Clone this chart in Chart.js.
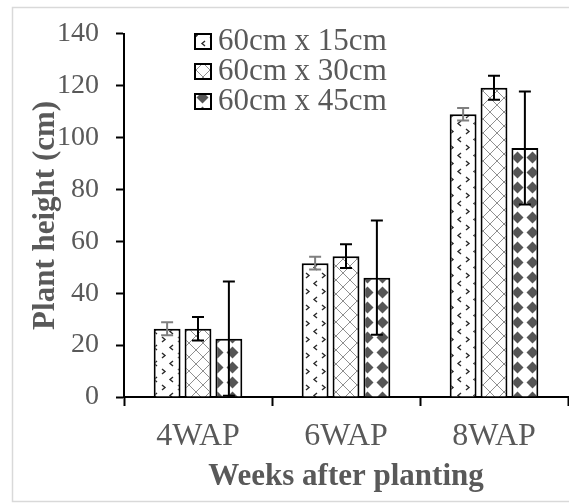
<!DOCTYPE html>
<html>
<head>
<meta charset="utf-8">
<script src="https://cdn.jsdelivr.net/npm/chart.js@4.4.1/dist/chart.umd.min.js"></script>
<style>
  html, body { margin: 0; padding: 0; background: #fff; }
  #wrap { width: 569px; height: 503px; position: relative; }
</style>
</head>
<body>
<div id="wrap"><canvas id="myChart"></canvas></div>
<script>
'use strict';

// data
const categories = ['4WAP', '6WAP', '8WAP'];
const seriesLabels = ['60cm x 15cm', '60cm x 30cm', '60cm x 45cm'];
const height15 = [26.3, 51.6, 109];
const height30 = [26.3, 54.3, 119.2];
const height45 = [22.5, 46, 96];
const err15 = [2.5, 2.5, 2.4];
const err30 = [4.5, 4.6, 4.6];
const err45 = [22, 22, 21.8];
const yTicks = [0, 20, 40, 60, 80, 100, 120, 140];

const FONT = '"Liberation Serif", "Times New Roman", serif';
const GREY_TEXT = '#595959';

// patterns
function makeTile(w, h, draw) {
  const c = document.createElement('canvas');
  c.width = w;
  c.height = h;
  const g = c.getContext('2d');
  g.fillStyle = '#fff';
  g.fillRect(0, 0, w, h);
  draw(g);
  return document.createElement('canvas').getContext('2d').createPattern(c, 'repeat');
}

// small ">" and "<" marks
const dotPattern = makeTile(16, 16, function(g) {
  g.strokeStyle = '#2a2a2a';
  g.lineWidth = 1.4;
  g.beginPath();
  g.moveTo(2, 1); g.lineTo(5, 3.5); g.lineTo(2, 6);
  g.moveTo(13, 9); g.lineTo(10, 11.5); g.lineTo(13, 14);
  g.stroke();
});

// diagonal lattice
const latticePattern = makeTile(14, 14, function(g) {
  g.strokeStyle = '#8f8f8f';
  g.lineWidth = 1;
  g.beginPath();
  g.moveTo(0, 0); g.lineTo(14, 14);
  g.moveTo(14, 0); g.lineTo(0, 14);
  g.stroke();
});

// grey diamonds
const diamondPattern = makeTile(15, 15, function(g) {
  g.fillStyle = '#555';
  g.beginPath();
  g.moveTo(7.5, 1.5); g.lineTo(13.5, 7.5); g.lineTo(7.5, 13.5); g.lineTo(1.5, 7.5);
  g.closePath();
  g.fill();
});

const errors = [err15, err30, err45];
const errColors = ['#7f7f7f', '#000', '#000'];

const errorBars = {
  id: 'errorBars',
  afterDatasetsDraw(chart) {
    const c = chart.ctx;
    const y = chart.scales.y;
    chart.data.datasets.forEach(function(ds, i) {
      const meta = chart.getDatasetMeta(i);
      meta.data.forEach(function(bar, j) {
        const v = ds.data[j];
        const e = errors[i][j];
        const top = y.getPixelForValue(v + e);
        const bot = y.getPixelForValue(Math.max(0, v - e));
        c.save();
        c.strokeStyle = errColors[i];
        c.lineWidth = 2;
        c.beginPath();
        c.moveTo(bar.x, top); c.lineTo(bar.x, bot);
        c.moveTo(bar.x - 6, top); c.lineTo(bar.x + 6, top);
        c.moveTo(bar.x - 6, bot); c.lineTo(bar.x + 6, bot);
        c.stroke();
        c.restore();
      });
    });
  }
};

const boxLegend = {
  id: 'boxLegend',
  afterDraw(chart) {
    const c = chart.ctx;
    c.save();
    chart.data.datasets.forEach(function(ds, i) {
      const cy = 41 + i * 30;
      c.fillStyle = ds.backgroundColor;
      c.fillRect(195, cy - 7, 16, 15);
      c.strokeStyle = '#000';
      c.lineWidth = 2;
      c.strokeRect(195, cy - 7, 16, 15);
      c.fillStyle = GREY_TEXT;
      c.font = '31px ' + FONT;
      c.textBaseline = 'middle';
      c.textAlign = 'left';
      c.fillText(ds.label, 218, cy + 1);
    });
    c.restore();
  }
};

const frame = {
  id: 'frame',
  beforeDraw(chart) {
    const c = chart.ctx;
    c.save();
    c.fillStyle = '#fff';
    c.fillRect(0, 0, chart.width, chart.height);
    c.strokeStyle = '#d9d9d9';
    c.lineWidth = 1.5;
    c.strokeRect(12.5, 7.5, 600, 494);
    c.restore();
  }
};

const ctx = document.getElementById('myChart').getContext('2d');

new Chart(ctx, {
  type: 'bar',
  data: {
    labels: categories,
    datasets: [
      { label: seriesLabels[0], data: height15, backgroundColor: dotPattern },
      { label: seriesLabels[1], data: height30, backgroundColor: latticePattern },
      { label: seriesLabels[2], data: height45, backgroundColor: diamondPattern }
    ].map(function(d) {
      return Object.assign(d, {
        borderColor: '#000',
        borderWidth: 2,
        categoryPercentage: 0.626,
        barPercentage: 0.87
      });
    })
  },
  options: {
    responsive: true,
    maintainAspectRatio: false,
    animation: false,
    layout: { padding: { top: 31, right: 1, left: 0, bottom: 0 } },
    plugins: {
      legend: { display: false },
      tooltip: { enabled: false }
    },
    scales: {
      x: {
        afterFit: function(s) { s.height = 106; },
        border: { color: '#000', width: 2 },
        grid: {
          drawOnChartArea: false,
          drawTicks: true,
          tickLength: 9,
          tickWidth: 2,
          tickColor: '#000',
          offset: true
        },
        ticks: {
          color: GREY_TEXT,
          padding: 11,
          font: { family: FONT, size: 32 }
        },
        title: {
          display: true,
          text: 'Weeks after planting',
          color: GREY_TEXT,
          padding: { top: 0, bottom: 7 },
          font: { family: FONT, size: 31, weight: 'bold' }
        }
      },
      y: {
        min: 0,
        max: 140,
        afterFit: function(s) { s.width = 124; },
        afterBuildTicks: function(s) {
          s.ticks = yTicks.map(function(v) { return { value: v }; });
        },
        border: { color: '#000', width: 2 },
        grid: {
          drawOnChartArea: false,
          drawTicks: true,
          tickLength: 8,
          tickWidth: 2,
          tickColor: '#000'
        },
        ticks: {
          color: GREY_TEXT,
          padding: 17,
          font: { family: FONT, size: 28 }
        },
        title: {
          display: true,
          text: 'Plant height (cm)',
          color: GREY_TEXT,
          padding: { top: 27, bottom: 0 },
          font: { family: FONT, size: 31, weight: 'bold' }
        }
      }
    }
  },
  plugins: [frame, errorBars, boxLegend]
});
</script>
</body>
</html>
